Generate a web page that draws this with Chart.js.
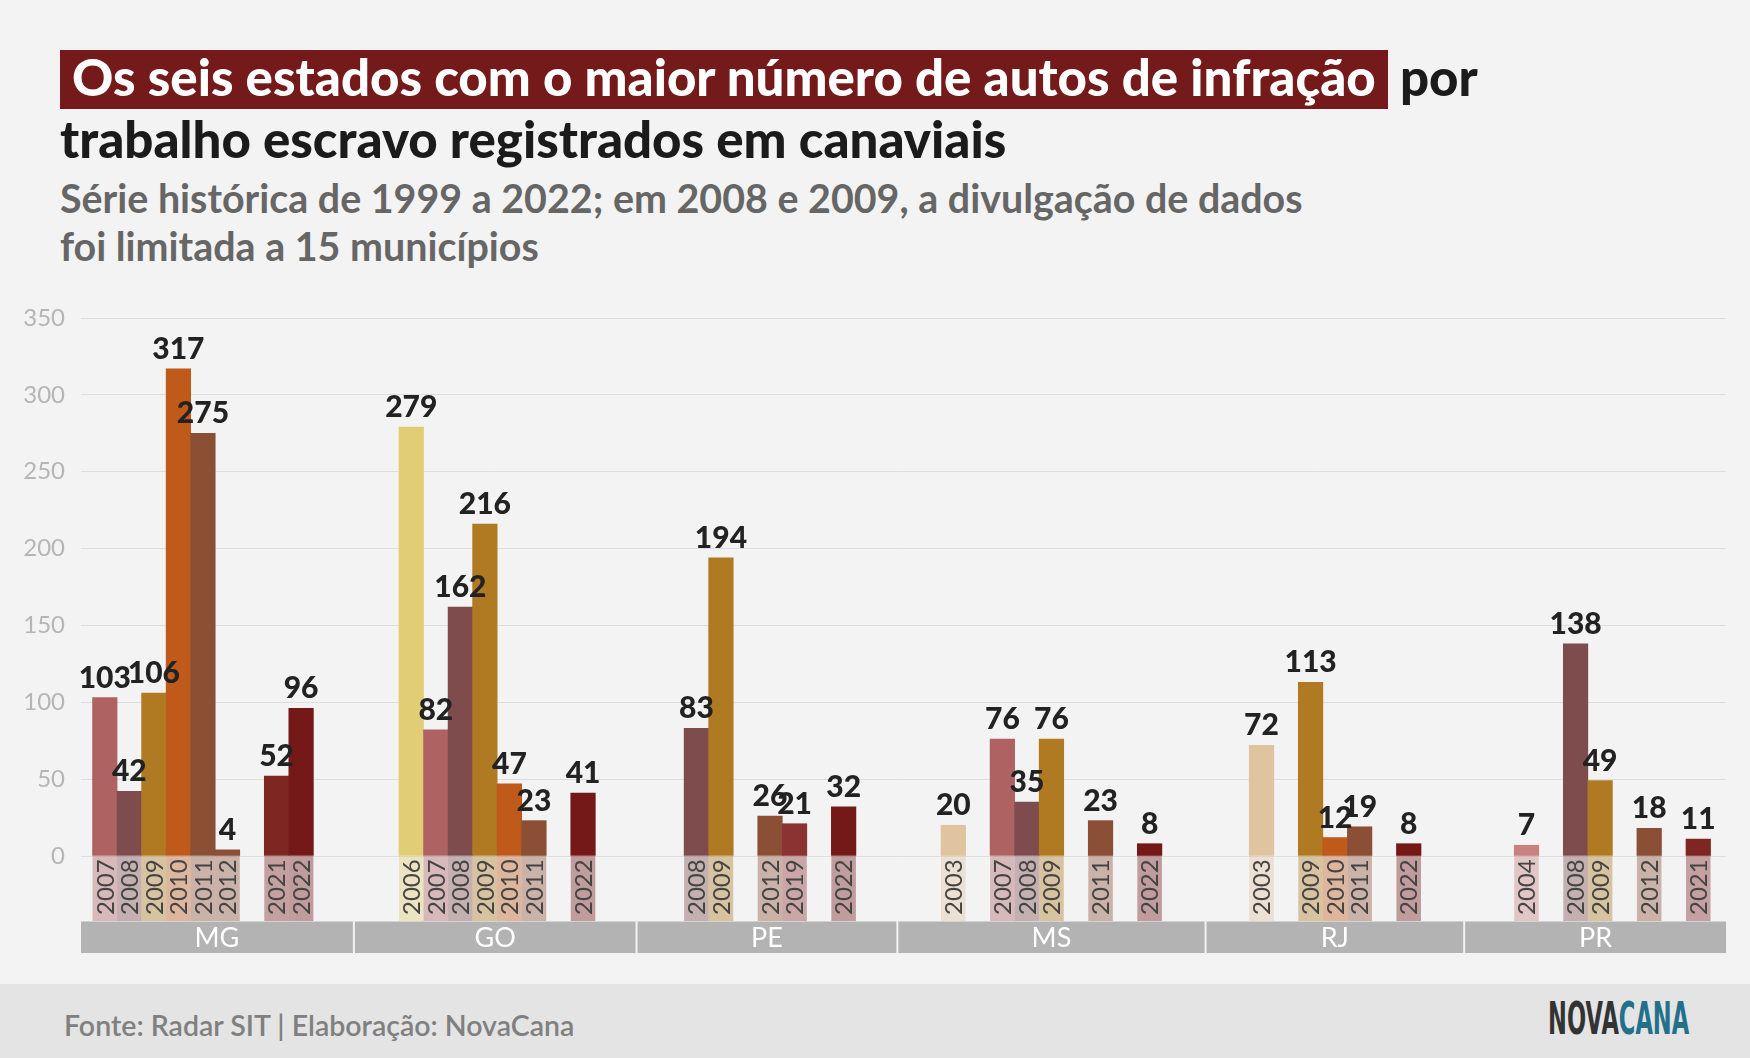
<!DOCTYPE html>
<html lang="pt-BR">
<head>
<meta charset="UTF-8">
<title>Autos de infração por trabalho escravo em canaviais</title>
<script src="https://cdn.jsdelivr.net/npm/chart.js"></script>
<style>
  body {
    margin: 0;
    width: 1750px;
    height: 1058px;
    background: #f3f3f3;
    font-family: Lato, 'Noto Sans', sans-serif;
    position: relative;
    overflow: hidden;
  }
  .title {
    position: absolute;
    left: 60px;
    top: 47px;
    font-size: 51px;
    line-height: 60px;
    font-weight: 900;
    color: #1b1b1b;
    white-space: nowrap;
  }
  .title .hl {
    display: inline-block;
    background: #751a1a;
    color: #fff;
    line-height: 51px;
    padding: 1px 0 7px;
  }
  .sub {
    position: absolute;
    left: 60px;
    top: 174px;
    font-size: 39.4px;
    line-height: 48px;
    font-weight: 700;
    color: #666;
    white-space: nowrap;
  }
  .chartbox { position: absolute; left: 0; top: 280px; width: 1750px; height: 700px; }
  .footer { position: absolute; left: 0; top: 984px; width: 1750px; height: 74px; background: #e4e4e4; }
  .fonte {
    position: absolute; left: 64px; top: 28px;
    font-size: 28.5px; line-height: 27px; font-weight: 600; color: #808080; white-space: nowrap;
  }
  .logo {
    position: absolute; left: 1548px; top: 11px;
    font-family: 'DejaVu Sans', sans-serif; font-weight: 700; font-size: 44px; line-height: 48px;
    white-space: nowrap; transform-origin: 0 0;
  }
  .logo .a { color: #333; }
  .logo .b { color: #22708a; }
</style>
</head>
<body>
  <div class="title"><span class="hl">&nbsp;Os seis estados com o maior número de autos de infração&nbsp;</span> por<br>trabalho escravo registrados em canaviais</div>
  <div class="sub">Série histórica de 1999 a 2022; em 2008 e 2009, a divulgação de dados<br>foi limitada a 15 municípios</div>
  <div class="chartbox"><canvas id="grafico"></canvas></div>
  <div class="footer">
    <div class="fonte">Fonte: Radar SIT | Elaboração: NovaCana</div>
    <div class="logo" id="logo"><span class="a">NOVA</span><span class="b">CANA</span></div>
  </div>

<script>
// dados por estado (null = espaço vazio entre grupos de anos)
const states = ['MG', 'GO', 'PE', 'MS', 'RJ', 'PR'];

const yearsMG  = ['2007', '2008', '2009', '2010', '2011', '2012', null, '2021', '2022'];
const valuesMG = [103, 42, 106, 317, 275, 4, null, 52, 96];

const yearsGO  = ['2006', '2007', '2008', '2009', '2010', '2011', null, '2022'];
const valuesGO = [279, 82, 162, 216, 47, 23, null, 41];

const yearsPE  = ['2008', '2009', null, '2012', '2019', null, '2022'];
const valuesPE = [83, 194, null, 26, 21, null, 32];

const yearsMS  = ['2003', null, '2007', '2008', '2009', null, '2011', null, '2022'];
const valuesMS = [20, null, 76, 35, 76, null, 23, null, 8];

const yearsRJ  = ['2003', null, '2009', '2010', '2011', null, '2022'];
const valuesRJ = [72, null, 113, 12, 19, null, 8];

const yearsPR  = ['2004', null, '2008', '2009', null, '2012', null, '2021'];
const valuesPR = [7, null, 138, 49, null, 18, null, 11];

const yTicks = [0, 50, 100, 150, 200, 250, 300, 350];

// cores por ano
const yearColors = {
  '2003': '#e0c39f', '2004': '#c98282', '2006': '#e1cd74', '2007': '#ae6262',
  '2008': '#7e4c4c', '2009': '#b07a22', '2010': '#bf5a1b', '2011': '#8b4f36',
  '2012': '#8b4f36', '2019': '#8b3333', '2021': '#7e2622', '2022': '#741818'
};

// espaçamento (em larguras de barra) antes/depois de cada grupo
const leadPad  = [0.47, 1.8, 1.9, 1.74, 1.74, 2.0];
const trailPad = [1.61, 1.64, 1.65, 1.74, 1.72, 0.63];
const bandGap = 0.08;

const yearsByState = [yearsMG, yearsGO, yearsPE, yearsMS, yearsRJ, yearsPR];
const valuesByState = [valuesMG, valuesGO, valuesPE, valuesMS, valuesRJ, valuesPR];

// monta as posições no eixo x
const points = [];
const bands = [];
let pos = 0;
states.forEach((st, i) => {
  const start = pos;
  pos += leadPad[i];
  yearsByState[i].forEach((yr, j) => {
    if (yr !== null) {
      points.push({ x: pos + 0.5, y: valuesByState[i][j], year: yr });
    }
    pos += 1;
  });
  pos += trailPad[i];
  bands.push({ start: start, end: pos, label: st });
  pos += bandGap;
});
const xMax = pos - bandGap;

function alphaColor(hex, a) {
  const n = parseInt(hex.slice(1), 16);
  return `rgba(${n >> 16}, ${(n >> 8) & 255}, ${n & 255}, ${a})`;
}

const decor = {
  id: 'decor',
  afterDatasetsDraw(chart) {
    const ctx = chart.ctx;
    const xs = chart.scales.x;
    const y0 = chart.scales.y.getPixelForValue(0);
    const meta = chart.getDatasetMeta(0);
    ctx.save();
    // caixas dos anos
    meta.data.forEach((bar, i) => {
      const p = points[i];
      const w = bar.width;
      ctx.fillStyle = alphaColor(yearColors[p.year], 0.4);
      ctx.fillRect(bar.x - w / 2, y0, w, 65);
      ctx.save();
      ctx.translate(bar.x + 1, y0 + 59);
      ctx.rotate(-Math.PI / 2);
      ctx.fillStyle = '#444';
      ctx.font = '400 24px Lato';
      ctx.textAlign = 'left';
      ctx.textBaseline = 'middle';
      ctx.fillText(p.year, 0, 0);
      ctx.restore();
    });
    // faixas dos estados
    bands.forEach(b => {
      const x1 = xs.getPixelForValue(b.start);
      const x2 = xs.getPixelForValue(b.end);
      ctx.fillStyle = '#b3b3b3';
      ctx.fillRect(x1, y0 + 65.5, x2 - x1, 31.5);
      ctx.fillStyle = '#fff';
      ctx.font = '400 27px Lato';
      ctx.textAlign = 'center';
      ctx.textBaseline = 'middle';
      ctx.fillText(b.label, (x1 + x2) / 2, y0 + 82);
    });
    // rótulos de valor
    ctx.fillStyle = '#222';
    ctx.font = '900 30px Lato';
    ctx.textAlign = 'center';
    ctx.textBaseline = 'alphabetic';
    meta.data.forEach((bar, i) => {
      ctx.fillText(points[i].y, bar.x, bar.y - 10);
    });
    ctx.restore();
  }
};

new Chart(document.getElementById('grafico'), {
  type: 'bar',
  data: {
    datasets: [{
      data: points,
      backgroundColor: points.map(p => yearColors[p.year]),
      borderWidth: 0,
      barPercentage: 1,
      categoryPercentage: 1
    }]
  },
  options: {
    responsive: true,
    maintainAspectRatio: false,
    animation: false,
    layout: { padding: { left: 0, right: 24, top: 38, bottom: 124 } },
    plugins: { legend: { display: false }, tooltip: { enabled: false } },
    scales: {
      x: {
        type: 'linear',
        display: false,
        offset: false,
        bounds: 'data',
        min: 0,
        max: xMax,
        afterBuildTicks: s => { s.ticks = [{ value: 0 }]; }
      },
      y: {
        min: 0,
        max: 350,
        afterBuildTicks: s => { s.ticks = yTicks.map(v => ({ value: v })); },
        afterFit: s => { s.width = 81; },
        border: { display: false },
        grid: { color: '#dddddd', lineWidth: 1, drawTicks: false },
        ticks: {
          color: '#b5b5b5',
          padding: 16,
          font: { family: 'Lato', size: 24, weight: '400' }
        }
      }
    }
  },
  plugins: [decor]
});

// ajusta a largura do logotipo
const logo = document.getElementById('logo');
logo.style.transform = 'scaleX(' + (141 / logo.scrollWidth) + ')';
</script>
</body>
</html>
